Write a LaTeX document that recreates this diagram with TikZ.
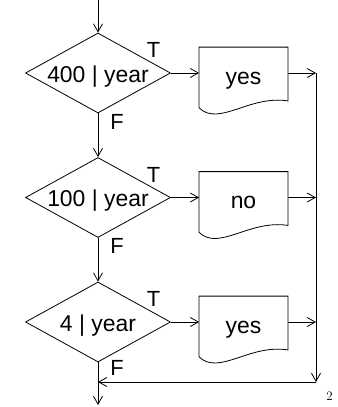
\documentclass[tikz,border=0pt]{standalone}
\usepackage{fontspec}
\newfontfamily\arial{Liberation Sans}
\usetikzlibrary{shapes.geometric,arrows.meta,calc}
\newcommand\docshape[1]{%
  \draw (#1.north west) -- (#1.north east) -- (#1.south east)
    .. controls ($(#1.south west)+(50,-6)$) and ($(#1.south west)+(20,26)$) .. ($(#1.south west)+(0,7)$) -- cycle;}
\begin{document}
\begin{tikzpicture}[x=1bp,y=-1bp,
  line width=0.8bp,
  >={Straight Barb[length=8bp,width=9bp]},
  dec/.style={diamond, draw, shape aspect=1.8, inner sep=0pt,
    minimum width=145bp, minimum height=80bp,
    font=\arial\fontsize{23}{27}\selectfont, text height=18bp, text depth=0bp},
  docbox/.style={rectangle, inner sep=0pt, minimum width=88bp, minimum height=53bp,
    font=\arial\fontsize{23}{27}\selectfont, text height=20bp, text depth=0bp},
  tf/.style={font=\arial\fontsize{22}{26}\selectfont, inner sep=0pt}]
\useasboundingbox (0,0) rectangle (338,407);

\node[dec] (d1) at (98,73) {400 | year};
\node[dec] (d2) at (98,197.5) {100 | year};
\node[dec] (d3) at (98,322) {4 | year};

\node[docbox] (o1) at (243.5,74) {yes};
\node[docbox] (o2) at (243.5,198.5) {no};
\node[docbox] (o3) at (243.5,323) {yes};
\docshape{o1}
\docshape{o2}
\docshape{o3}

\node[tf] (t1) at ($(d1.center)+(55.5,-22.7)$) {T};
\node[tf] (t2) at ($(d2.center)+(55.5,-22.7)$) {T};
\node[tf] (t3) at ($(d3.center)+(55.5,-22.7)$) {T};
\node[tf] (f1) at ($(d1.center)+(19,49)$) {F};
\node[tf] (f2) at ($(d2.center)+(19,48)$) {F};
\node[tf] (f3) at ($(d3.center)+(19,46)$) {F};

\coordinate (in) at (98,0);
\coordinate (r1) at (316,73);
\coordinate (r2) at (316,197.5);
\coordinate (r3) at (316,322);
\coordinate (rb) at (316,382);
\coordinate (m) at (98,382);
\coordinate (out) at (98,405);

\draw[->] (in) -- (d1.north);
\draw[->] (d1.south) -- (d2.north);
\draw[->] (d2.south) -- (d3.north);
\draw[->] (d3.south) -- (out);

\draw[->] (d1.east) -- (d1.east -| o1.west);
\draw[->] (d2.east) -- (d2.east -| o2.west);
\draw[->] (d3.east) -- (d3.east -| o3.west);
\draw[->] (d1.east -| o1.east) -- (r1);
\draw[->] (d2.east -| o2.east) -- (r2);
\draw[->] (d3.east -| o3.east) -- (r3);

\draw[->] (r1) -- (rb);
\draw[->] (rb) -- (m);

\node[font=\fontsize{13}{15}\selectfont, inner sep=0pt] (pg) at (329.5,396.3) {2};
\end{tikzpicture}
\end{document}
